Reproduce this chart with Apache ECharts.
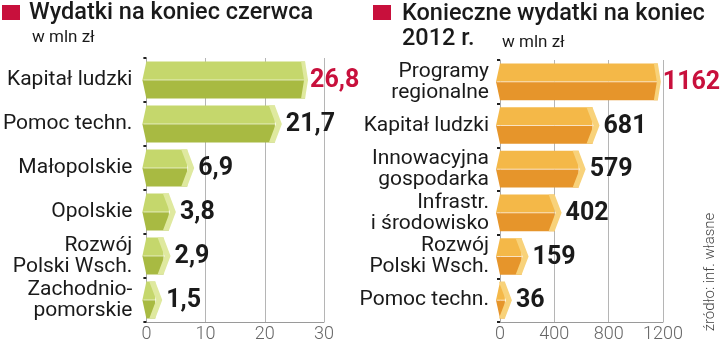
<!DOCTYPE html>
<html><head><meta charset="utf-8">
<script src="https://cdn.jsdelivr.net/npm/echarts@6/dist/echarts.min.js"></script>
<style>html,body{margin:0;padding:0;background:#fff}#c{width:720px;height:343px}</style>
</head><body><div id="c"></div>
<script>
var leftCategories = ['Kapitał ludzki','Pomoc techn.','Małopolskie','Opolskie','Rozwój\nPolski Wsch.','Zachodnio-\npomorskie'];
var leftValues = [26.8, 21.7, 6.9, 3.8, 2.9, 1.5];
var leftTicks = [0, 10, 20, 30];
var rightCategories = ['Programy\nregionalne','Kapitał ludzki','Innowacyjna\ngospodarka','Infrastr.\ni środowisko','Rozwój\nPolski Wsch.','Pomoc techn.'];
var rightValues = [1162, 681, 579, 402, 159, 36];
var rightTicks = [0, 400, 800, 1200];
var leftTitle = 'Wydatki na koniec czerwca';
var rightTitle = 'Konieczne wydatki na koniec\n2012 r.';
var unitText = 'w mln zł';
var sourceText = 'źródło: inf. własne';

var FONT = 'Roboto';
var RED = '#c8103c';
var greenPal = {top:'#c5d76c', bottom:'#a8ba42', cap:'#dfe99f'};
var orangePal = {top:'#f4b848', bottom:'#e6952b', cap:'#f8d27a'};

function fmtComma(v){ return String(v).replace('.', ','); }
function fmtInt(v){ return String(v); }

function makeRenderer(pal, values, fmt){
  var maxV = Math.max.apply(null, values);
  return function(params, api){
    var v = api.value(0), ci = api.value(1);
    var p0 = api.coord([0, ci]), p1 = api.coord([v, ci]);
    var band = api.size([0, 1])[1];
    var h = band * 0.84, yc = p0[1], top = yc - h / 2, bot = yc + h / 2;
    var x0 = p0[0], x1 = p1[0];
    var d = 4;
    var isMax = v === maxV;
    var tip = isMax ? 3 : 7;
    var gap = isMax ? 2 : 4;
    var cw = isMax ? 4 : 6;
    return {
      type: 'group',
      children: [
        {type:'polygon', shape:{points:[[x0,top],[x1,top],[x1,yc],[x0-d,yc]]}, style:{fill:pal.top}},
        {type:'polygon', shape:{points:[[x0-d,yc],[x1,yc],[x1,bot],[x0,bot]]}, style:{fill:pal.bottom}},
        {type:'polyline', shape:{points:[[x0-d+1,yc],[x1,yc]]}, style:{stroke:'rgba(255,255,255,0.6)', lineWidth:1, fill:null}},
        {type:'polygon', shape:{points:[[x1-cw,top],[x1,top],[x1+tip,yc],[x1,bot],[x1-cw,bot],[x1-cw+tip,yc]]}, style:{fill:pal.cap}},
        {type:'text', style:{text: fmt(v), x: x1 + tip + gap, y: yc + 1, align:'left', verticalAlign:'middle',
          fontFamily: FONT, fontSize: 25, fontWeight: 'bold', fill: isMax ? RED : '#1a1a1a'}}
      ]
    };
  };
}

function xAxisCfg(ticks, gi){
  return {
    type:'value', gridIndex: gi, min: ticks[0], max: ticks[ticks.length-1], interval: ticks[1]-ticks[0],
    axisLine:{show:true, lineStyle:{color:'#9a9a9a', width:1}},
    axisTick:{show:false},
    splitLine:{show:true, lineStyle:{color:'#b5b5b5', width:1}},
    axisLabel:{color:'#666', fontFamily:FONT, fontSize:18, fontWeight:300, margin:3, formatter: function(v){ return String(v); }}
  };
}
function yAxisCfg(cats, gi, margin){
  return {
    type:'category', gridIndex: gi, data: cats, inverse: true,
    axisLine:{show:true, lineStyle:{color:'#aaa', width:1}},
    axisTick:{show:true, length:3, lineStyle:{color:'#222', width:2}},
    axisLabel:{color:'#1a1a1a', fontFamily:FONT, fontSize:21, lineHeight:21, margin: margin}
  };
}

var chart = echarts.init(document.getElementById('c'), null, {renderer:'canvas'});
chart.setOption({
  animation: false,
  backgroundColor: '#fff',
  textStyle: {fontFamily: FONT},
  title: [
    {text: leftTitle, left: 29, top: 1, padding: 0, textStyle:{fontFamily:FONT, fontSize:23.5, fontWeight:500, color:'#1a1a1a'}},
    {text: unitText, left: 32, top: 29, padding: 0, textStyle:{fontFamily:FONT, fontSize:17, fontWeight:400, color:'#1a1a1a'}},
    {text: rightTitle, left: 402, top: 2, padding: 0, textStyle:{fontFamily:FONT, fontSize:23.5, fontWeight:500, lineHeight:25, color:'#1a1a1a'}},
    {text: unitText, left: 502, top: 34, padding: 0, textStyle:{fontFamily:FONT, fontSize:17, fontWeight:400, color:'#1a1a1a'}}
  ],
  graphic: [
    {type:'rect', left: 2, top: 5, shape:{width:18, height:15}, style:{fill:RED}},
    {type:'rect', left: 373, top: 5, shape:{width:18, height:15}, style:{fill:RED}},
    {type:'text', x: 710, y: 272, rotation: Math.PI/2, style:{text: sourceText, align:'center', verticalAlign:'middle', fontFamily:FONT, fontSize:15, fontWeight:300, fill:'#444'}}
  ],
  grid: [
    {left:146, right:396, top:58, bottom:18},
    {left:500, right:57, top:60, bottom:19}
  ],
  xAxis: [xAxisCfg(leftTicks, 0), xAxisCfg(rightTicks, 1)],
  yAxis: [yAxisCfg(leftCategories, 0, 14), yAxisCfg(rightCategories, 1, 11)],
  series: [
    {type:'custom', xAxisIndex:0, yAxisIndex:0, renderItem: makeRenderer(greenPal, leftValues, fmtComma),
     encode:{x:0, y:1}, data: leftValues.map(function(v,i){return [v,i];}), clip:false},
    {type:'custom', xAxisIndex:1, yAxisIndex:1, renderItem: makeRenderer(orangePal, rightValues, fmtInt),
     encode:{x:0, y:1}, data: rightValues.map(function(v,i){return [v,i];}), clip:false}
  ]
});
</script>
</body></html>
